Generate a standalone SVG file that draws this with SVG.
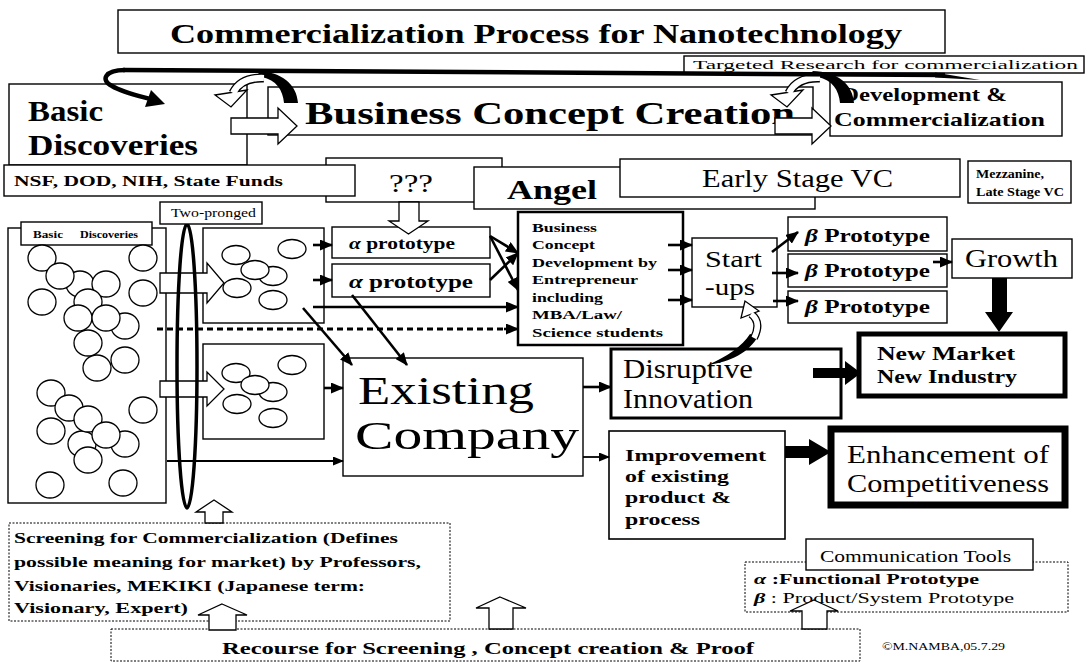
<svg xmlns="http://www.w3.org/2000/svg" width="1091" height="662" viewBox="0 0 1091 662">
<defs>
<style>
.bx{fill:#fff;stroke:#000;stroke-width:1.4}
.dt{fill:#fff;stroke:#000;stroke-width:1;stroke-dasharray:2 1.5}
.t{font-family:"Liberation Serif","Times New Roman",serif;fill:#000}
.b{font-weight:bold}
.i{font-style:italic}
.c{fill:#fff;stroke:#000;stroke-width:1.3}
.hw{fill:#fff;stroke:#000;stroke-width:1.3}
.ar{fill:none;stroke:#000;stroke-width:2.6;marker-end:url(#ah)}
.ar2{fill:none;stroke:#000;stroke-width:1.8;marker-end:url(#ah2)}
.blk{fill:#000}
</style>
<marker id="ah" markerUnits="userSpaceOnUse" markerWidth="13" markerHeight="11" refX="12" refY="5.5" orient="auto"><path d="M0,0 L13,5.5 L0,11 z"/></marker>
<marker id="ah2" markerUnits="userSpaceOnUse" markerWidth="11" markerHeight="9" refX="10" refY="4.5" orient="auto"><path d="M0,0 L11,4.5 L0,9 z"/></marker>
<!-- cycle icon: black arch plus hollow curved return arrow -->
<g id="cycle">
<path class="blk" d="M 256 71 C 282 71 297 85 298 103 L 284 103 C 283 90 276 80 262 77 Z"/>
<path d="M 264 78 Q 241 77 233 93" fill="none" stroke="#000" stroke-width="9"/>
<polygon class="hw" points="215,95 247,90 231,107"/>
<path d="M 264 78 Q 241 77 233 93" fill="none" stroke="#fff" stroke-width="6.2"/>
</g>
</defs>
<rect width="1091" height="662" fill="#fff"/>

<!-- header -->
<g id="title">
<rect class="bx" x="118" y="10" width="827" height="43"/>
<text class="t b" x="170" y="43" font-size="28" textLength="732" lengthAdjust="spacingAndGlyphs">Commercialization Process for Nanotechnology</text>
</g>
<g id="targeted">
<rect class="bx" x="684" y="56" width="400" height="17"/>
<text class="t" x="693" y="69" font-size="13" textLength="385" lengthAdjust="spacingAndGlyphs">Targeted Research for commercialization</text>
</g>
<g id="basic-discoveries">
<rect class="bx" x="9" y="84" width="238" height="81"/>
<text class="t b" x="28" y="121" font-size="30" textLength="75" lengthAdjust="spacingAndGlyphs">Basic</text>
<text class="t b" x="28" y="155" font-size="30" textLength="170" lengthAdjust="spacingAndGlyphs">Discoveries</text>
</g>
<g id="business-concept-creation">
<rect class="bx" x="268" y="87" width="545" height="48"/>
<text class="t b" x="305" y="124" font-size="31" textLength="490" lengthAdjust="spacingAndGlyphs">Business Concept Creation</text>
</g>
<g id="development">
<rect class="bx" x="830" y="82" width="232" height="54"/>
<text class="t b" x="841" y="101" font-size="19" textLength="166" lengthAdjust="spacingAndGlyphs">Development &amp;</text>
<text class="t b" x="834" y="126" font-size="19" textLength="211" lengthAdjust="spacingAndGlyphs">Commercialization</text>
</g>

<!-- funding row -->
<g id="unknown-funding">
<rect class="bx" x="326" y="158" width="176" height="44"/>
<text class="t" x="389" y="192" font-size="26" textLength="44" lengthAdjust="spacingAndGlyphs">???</text>
</g>
<g id="public-funds">
<rect class="bx" x="4" y="165" width="351" height="31"/>
<text class="t b" x="14" y="186" font-size="15" textLength="269" lengthAdjust="spacingAndGlyphs">NSF, DOD, NIH, State Funds</text>
</g>
<g id="angel">
<rect class="bx" x="474" y="167" width="341" height="42"/>
<text class="t b" x="507" y="199" font-size="28" textLength="90" lengthAdjust="spacingAndGlyphs">Angel</text>
</g>
<g id="early-vc">
<rect class="bx" x="620" y="159" width="340" height="38"/>
<text class="t" x="702" y="187" font-size="25" textLength="191" lengthAdjust="spacingAndGlyphs">Early Stage VC</text>
</g>
<g id="late-vc">
<rect class="bx" x="968" y="161" width="103" height="42"/>
<text class="t b" x="976" y="178" font-size="11.5" textLength="68" lengthAdjust="spacingAndGlyphs">Mezzanine,</text>
<text class="t b" x="976" y="196" font-size="11.5" textLength="88" lengthAdjust="spacingAndGlyphs">Late Stage VC</text>
</g>

<!-- discovery pool -->
<g id="discovery-pool">
<rect class="bx" x="8" y="228" width="158" height="275"/>
<rect class="bx" x="21" y="222" width="131" height="23"/>
<text class="t b" x="33" y="238" font-size="10" textLength="30" lengthAdjust="spacingAndGlyphs">Basic</text>
<text class="t b" x="80" y="238" font-size="10" textLength="58" lengthAdjust="spacingAndGlyphs">Discoveries</text>
<g>
<ellipse class="c" cx="42" cy="258" rx="14" ry="13"/>
<ellipse class="c" cx="80" cy="284" rx="14" ry="13"/>
<ellipse class="c" cx="60" cy="276" rx="14" ry="13"/>
<ellipse class="c" cx="106" cy="284" rx="14" ry="13"/>
<ellipse class="c" cx="88" cy="302" rx="14" ry="13"/>
<ellipse class="c" cx="125" cy="326" rx="14" ry="13"/>
<ellipse class="c" cx="78" cy="318" rx="14" ry="13"/>
<ellipse class="c" cx="106" cy="318" rx="14" ry="13"/>
<ellipse class="c" cx="42" cy="302" rx="14" ry="13"/>
<ellipse class="c" cx="88" cy="343" rx="14" ry="13"/>
<ellipse class="c" cx="125" cy="360" rx="14" ry="13"/>
<ellipse class="c" cx="97" cy="368" rx="14" ry="13"/>
<ellipse class="c" cx="143" cy="258" rx="14" ry="13"/>
<ellipse class="c" cx="143" cy="293" rx="14" ry="13"/>
<ellipse class="c" cx="51" cy="393" rx="14" ry="13"/>
<ellipse class="c" cx="82" cy="444" rx="14" ry="13"/>
<ellipse class="c" cx="69" cy="408" rx="14" ry="13"/>
<ellipse class="c" cx="88" cy="419" rx="14" ry="13"/>
<ellipse class="c" cx="51" cy="431" rx="14" ry="13"/>
<ellipse class="c" cx="125" cy="444" rx="14" ry="13"/>
<ellipse class="c" cx="106" cy="435" rx="14" ry="13"/>
<ellipse class="c" cx="88" cy="460" rx="14" ry="13"/>
<ellipse class="c" cx="143" cy="410" rx="14" ry="13"/>
<ellipse class="c" cx="50" cy="485" rx="14" ry="13"/>
<ellipse class="c" cx="123" cy="483" rx="14" ry="13"/>
</g>
</g>

<g id="selected-upper">
<rect class="bx" x="203" y="228" width="121" height="95"/>
<ellipse class="c" cx="273" cy="276" rx="14" ry="9.5"/>
<ellipse class="c" cx="236" cy="255" rx="14" ry="9.5"/>
<ellipse class="c" cx="255" cy="270" rx="14" ry="9.5"/>
<ellipse class="c" cx="237" cy="288" rx="14" ry="9.5"/>
<ellipse class="c" cx="292" cy="249" rx="14" ry="9.5"/>
<ellipse class="c" cx="273" cy="300" rx="14" ry="9.5"/>
</g>
<g id="selected-lower">
<rect class="bx" x="203" y="344" width="121" height="95"/>
<ellipse class="c" cx="273" cy="392" rx="14" ry="9.5"/>
<ellipse class="c" cx="236" cy="373" rx="14" ry="9.5"/>
<ellipse class="c" cx="255" cy="385" rx="14" ry="9.5"/>
<ellipse class="c" cx="237" cy="404" rx="14" ry="9.5"/>
<ellipse class="c" cx="292" cy="365" rx="14" ry="9.5"/>
<ellipse class="c" cx="273" cy="418" rx="14" ry="9.5"/>
</g>

<g id="two-pronged">
<polygon class="hw" points="160,273 207,273 207,263 224,283 207,303 207,293 160,293"/>
<polygon class="hw" points="160,381 207,381 207,372 224,389 207,406 207,397 160,397"/>
<ellipse cx="187" cy="366" rx="10" ry="142" fill="none" stroke="#000" stroke-width="3.5"/>
<rect class="bx" x="160" y="202" width="102" height="22"/>
<text class="t" x="171" y="217" font-size="12" textLength="85" lengthAdjust="spacingAndGlyphs">Two-pronged</text>
</g>

<g id="alpha-1">
<rect class="bx" x="332" y="227" width="158" height="31"/>
<text class="t b" x="349" y="249" font-size="16" textLength="106" lengthAdjust="spacingAndGlyphs"><tspan class="i">α</tspan> prototype</text>
</g>
<g id="alpha-2">
<rect class="bx" x="332" y="264" width="158" height="33"/>
<text class="t b" x="349" y="288" font-size="18" textLength="124" lengthAdjust="spacingAndGlyphs"><tspan class="i">α</tspan> prototype</text>
</g>
<polygon class="hw" points="399,202 419,202 419,221 428,221 408.5,234 389,221 399,221"/>

<g id="entrepreneur">
<rect x="518" y="212" width="165" height="133" fill="#fff" stroke="#000" stroke-width="2.5"/>
<g class="t b" font-size="13">
<text x="532" y="232" textLength="65" lengthAdjust="spacingAndGlyphs">Business</text>
<text x="532" y="249" textLength="63" lengthAdjust="spacingAndGlyphs">Concept</text>
<text x="532" y="267" textLength="125" lengthAdjust="spacingAndGlyphs">Development by</text>
<text x="532" y="284" textLength="106" lengthAdjust="spacingAndGlyphs">Entrepreneur</text>
<text x="532" y="302" textLength="71" lengthAdjust="spacingAndGlyphs">including</text>
<text x="532" y="319" textLength="90" lengthAdjust="spacingAndGlyphs">MBA/Law/</text>
<text x="532" y="337" textLength="131" lengthAdjust="spacingAndGlyphs">Science  students</text>
</g>
</g>

<g id="startups">
<rect class="bx" x="692" y="238" width="85" height="69"/>
<text class="t" x="705" y="267" font-size="24" textLength="57" lengthAdjust="spacingAndGlyphs">Start</text>
<text class="t" x="705" y="295" font-size="24" textLength="50" lengthAdjust="spacingAndGlyphs">-ups</text>
</g>
<g id="beta-1">
<rect class="bx" x="788" y="217" width="159" height="34"/>
<text class="t b" x="805" y="242" font-size="18" textLength="125" lengthAdjust="spacingAndGlyphs"><tspan class="i">β</tspan> Prototype</text>
</g>
<g id="beta-2">
<rect class="bx" x="788" y="254" width="159" height="33"/>
<text class="t b" x="805" y="277" font-size="18" textLength="125" lengthAdjust="spacingAndGlyphs"><tspan class="i">β</tspan> Prototype</text>
</g>
<g id="beta-3">
<rect class="bx" x="788" y="291" width="159" height="32"/>
<text class="t b" x="805" y="313" font-size="18" textLength="125" lengthAdjust="spacingAndGlyphs"><tspan class="i">β</tspan> Prototype</text>
</g>
<g id="growth">
<rect class="bx" x="952" y="239" width="120" height="39"/>
<text class="t" x="965" y="267" font-size="25" textLength="93" lengthAdjust="spacingAndGlyphs">Growth</text>
</g>
<g id="new-market">
<rect x="859" y="334" width="206" height="62" fill="#fff" stroke="#000" stroke-width="5"/>
<text class="t b" x="877" y="360" font-size="18" textLength="138" lengthAdjust="spacingAndGlyphs">New  Market</text>
<text class="t b" x="877" y="383" font-size="18" textLength="140" lengthAdjust="spacingAndGlyphs">New Industry</text>
</g>

<g id="existing-company">
<rect class="bx" x="343" y="358" width="240" height="118"/>
<text class="t" x="358" y="404" font-size="40.5" textLength="176" lengthAdjust="spacingAndGlyphs">Existing</text>
<text class="t" x="355" y="449" font-size="40.5" textLength="224" lengthAdjust="spacingAndGlyphs">Company</text>
</g>
<g id="disruptive">
<rect x="611" y="349" width="230" height="69" fill="#fff" stroke="#000" stroke-width="3"/>
<text class="t" x="623" y="378" font-size="27" textLength="130" lengthAdjust="spacingAndGlyphs">Disruptive</text>
<text class="t" x="623" y="408" font-size="27" textLength="130" lengthAdjust="spacingAndGlyphs">Innovation</text>
</g>
<g id="improvement">
<rect x="609" y="431" width="176" height="108" fill="#fff" stroke="#000" stroke-width="1.6"/>
<g class="t b" font-size="17">
<text x="625" y="461" textLength="141" lengthAdjust="spacingAndGlyphs">Improvement</text>
<text x="625" y="482" textLength="104" lengthAdjust="spacingAndGlyphs">of existing</text>
<text x="625" y="503" textLength="106" lengthAdjust="spacingAndGlyphs">product &amp;</text>
<text x="625" y="525" textLength="75" lengthAdjust="spacingAndGlyphs">process</text>
</g>
</g>
<g id="enhancement">
<rect x="831" y="429" width="234" height="76" fill="#fff" stroke="#000" stroke-width="7"/>
<text class="t" x="847" y="463" font-size="26" textLength="202" lengthAdjust="spacingAndGlyphs">Enhancement of</text>
<text class="t" x="847" y="492" font-size="26" textLength="202" lengthAdjust="spacingAndGlyphs">Competitiveness</text>
</g>

<!-- lower panels -->
<g id="screening">
<rect class="dt" x="9" y="523" width="441" height="98"/>
<g class="t b" font-size="15">
<text x="14" y="543" textLength="384" lengthAdjust="spacingAndGlyphs">Screening for Commercialization (Defines</text>
<text x="14" y="567" textLength="407" lengthAdjust="spacingAndGlyphs">possible meaning for market) by Professors,</text>
<text x="14" y="591" textLength="351" lengthAdjust="spacingAndGlyphs">Visionaries, MEKIKI (Japanese term:</text>
<text x="14" y="613" textLength="174" lengthAdjust="spacingAndGlyphs">Visionary, Expert)</text>
</g>
</g>
<g id="recourse">
<rect class="dt" x="111" y="629" width="749" height="32"/>
<text class="t b" x="222" y="654" font-size="17" textLength="532" lengthAdjust="spacingAndGlyphs">Recourse for Screening , Concept creation &amp; Proof</text>
</g>
<g id="legend">
<rect class="dt" x="745" y="562" width="323" height="50"/>
<text class="t b" x="754" y="584" font-size="15" textLength="225" lengthAdjust="spacingAndGlyphs"><tspan class="i">α</tspan> :Functional Prototype</text>
<text class="t" x="754" y="603" font-size="15" textLength="260" lengthAdjust="spacingAndGlyphs"><tspan class="i b">β</tspan> : Product/System Prototype</text>
<rect class="bx" x="806" y="539" width="227" height="31"/>
<text class="t" x="820" y="562" font-size="16" textLength="191" lengthAdjust="spacingAndGlyphs">Communication Tools</text>
</g>
<text class="t" x="882" y="650" font-size="10" textLength="123" lengthAdjust="spacingAndGlyphs">©M.NAMBA,05.7.29</text>

<!-- connectors -->
<g id="connectors">
<!-- top flow -->
<polygon class="hw" points="231,118 278,118 278,108 297,126 278,144 278,134 231,134"/>
<polygon class="hw" points="775,118 812,118 812,108 831,126 812,144 812,134 775,134"/>
<use href="#cycle"/>
<use href="#cycle" x="556"/>
<path d="M 125 70 C 105 70 100 80 112 86 C 122 92 135 95 150 99" fill="none" stroke="#000" stroke-width="4.5"/>
<polygon class="blk" points="165,104 151,90 145,107"/>
<path d="M 123 70 L 945 75" fill="none" stroke="#000" stroke-width="4.5"/>
<polygon class="blk" points="935,72.5 980,80 935,77.5"/>

<!-- screening feeds -->
<path class="ar" d="M 313 245 L 332 245"/>
<path class="ar" d="M 313 280 L 332 280"/>
<path class="ar" d="M 313 307 L 518 307"/>
<path class="ar" d="M 303 308 L 352 365"/>
<path class="ar" d="M 352 295 L 407 365"/>
<path class="ar" d="M 490 236 L 518 290"/>
<path class="ar" d="M 490 236 L 518 253"/>
<path class="ar" d="M 490 280 L 518 253"/>
<path d="M 157 329 L 506 329" fill="none" stroke="#000" stroke-width="3" stroke-dasharray="6 4"/>
<path class="ar" d="M 504 329 L 518 329"/>
<path class="ar" d="M 324 388 L 343 388"/>
<path class="ar2" d="M 167 461 L 343 461"/>

<!-- venture path -->
<path class="ar" d="M 668 245 L 692 245"/>
<path class="ar" d="M 668 270 L 692 270"/>
<path class="ar" d="M 668 300 L 692 300"/>
<path class="ar" d="M 772 252 L 798 232"/>
<path class="ar" d="M 772 273 L 798 273"/>
<path class="ar" d="M 773 301 L 798 301"/>
<path class="ar" d="M 933 262 L 952 262"/>
<polygon class="blk" points="992,278 1007,278 1007,312 1013,312 999,332 985,312 992,312"/>

<!-- corporate path -->
<path class="ar" d="M 583 387 L 611 387"/>
<path class="ar2" d="M 583 457 L 609 457"/>
<polygon class="blk" points="813,368 845,368 845,361 861,373 845,385 845,378 813,378"/>
<polygon class="blk" points="785,446 809,446 809,439 831,452 809,465 809,458 785,458"/>

<!-- disruption feeds back to start-ups -->
<path class="blk" d="M 708 365 C 730 362 750 352 758 336 L 750 334 C 742 346 728 356 708 365 Z"/>
<path d="M 754 338 Q 762 322 751 314" fill="none" stroke="#000" stroke-width="8"/>
<polygon class="hw" points="745,301 741,318 759,311"/>
<path d="M 754 338 Q 762 322 751 314" fill="none" stroke="#fff" stroke-width="5.4"/>

<!-- upward support arrows -->
<polygon class="hw" points="214,500 232,512 223,512 223,523 205,523 205,512 196,512"/>
<polygon class="hw" points="222,604 247,615 236,615 236,630 209,630 209,615 198,615"/>
<polygon class="hw" points="500,597 526,608 513,608 513,629 489,629 489,608 476,608"/>
<polygon class="hw" points="814,600 838,611 827,611 827,629 802,629 802,611 790,611"/>
</g>
</svg>
